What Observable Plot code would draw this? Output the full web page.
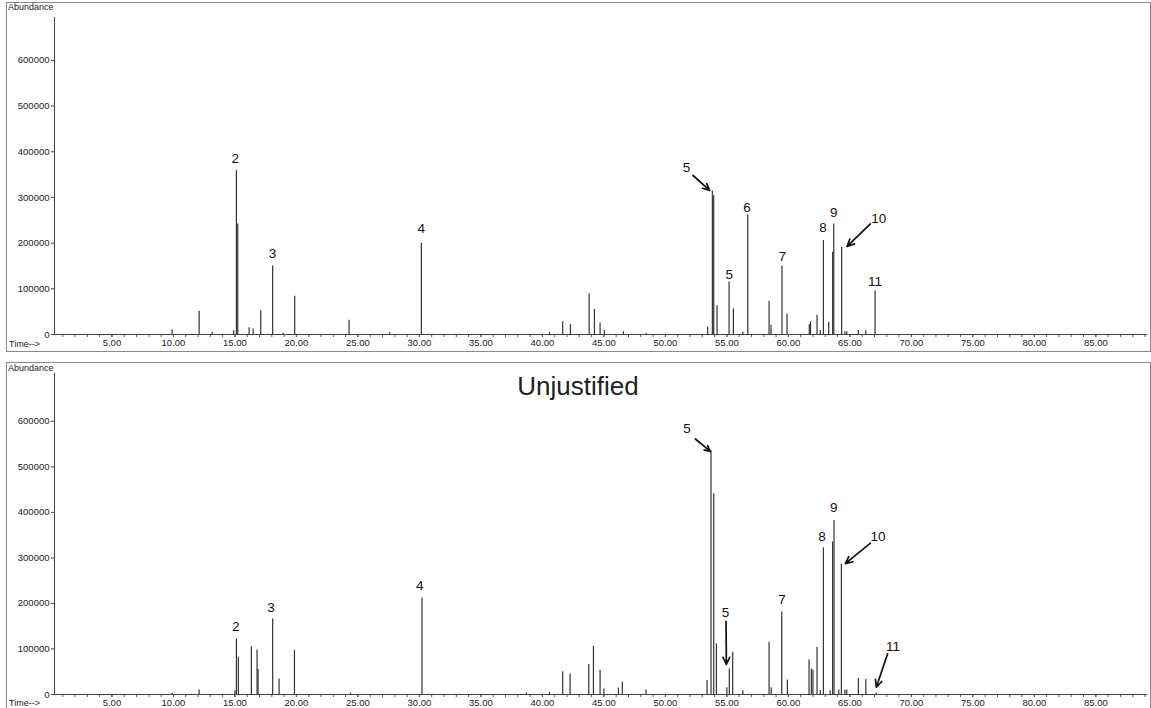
<!DOCTYPE html>
<html>
<head>
<meta charset="utf-8">
<script src="https://cdn.jsdelivr.net/npm/d3@7"></script>
<script src="https://cdn.jsdelivr.net/npm/@observablehq/plot@0.6"></script>
<style>
  html, body { margin: 0; padding: 0; background: #fff; overflow: hidden; }
  #root { position: relative; width: 1151px; height: 708px; font-family: "Liberation Sans", Arial, sans-serif; }
  .panel { position: absolute; left: 0; }
  .box { position: absolute; border: 1px solid #8a8a8a; pointer-events: none; }
  .lbl { position: absolute; font-size: 9px; color: #222; line-height: 1; white-space: nowrap; }
  .title { position: absolute; font-size: 26px; color: #222; line-height: 1; white-space: nowrap; transform: translateX(-50%); }
</style>
</head>
<body>
<div id="root"></div>
<script>
// ---- axis ticks ----
const xTicks = [5, 10, 15, 20, 25, 30, 35, 40, 45, 50, 55, 60, 65, 70, 75, 80, 85];
const xMinorTicks = [1,2,3,4,5,6,7,8,9,10,11,12,13,14,15,16,17,18,19,20,21,22,23,24,25,26,27,28,29,30,
  31,32,33,34,35,36,37,38,39,40,41,42,43,44,45,46,47,48,49,50,51,52,53,54,55,56,57,58,59,60,
  61,62,63,64,65,66,67,68,69,70,71,72,73,74,75,76,77,78,79,80,81,82,83,84,85,86,87,88,89];
const yTicks = [0, 100000, 200000, 300000, 400000, 500000, 600000];

// ---- top chromatogram: retention time (min) and abundance ----
const topTime  = [9.89, 12.09, 13.15, 14.9, 15.12, 15.23, 16.15, 16.48, 17.1, 18.07, 18.92, 19.86, 24.28, 27.59, 30.16,
  40.59, 41.65, 42.28, 43.8, 44.23, 44.69, 45.04, 46.59, 48.46, 53.44, 53.82, 53.93, 54.2, 55.18, 55.53, 56.3, 56.7,
  58.43, 58.59, 59.48, 59.89, 61.7, 61.8, 62.33, 62.6, 62.85, 63.28, 63.6, 63.69, 64.33, 64.6, 64.75, 65.69, 66.3, 67.05];
const topAbund = [10000, 51000, 5000, 8000, 359000, 242000, 15000, 12000, 52000, 150000, 3000, 84000, 31000, 4000, 200000,
  4000, 28000, 22000, 89000, 55000, 25000, 8000, 6000, 2000, 16000, 314000, 304000, 63000, 115000, 56000, 5000, 262000,
  72000, 20000, 150000, 45000, 22000, 28000, 42000, 8000, 206000, 26000, 180000, 242000, 191000, 6000, 6000, 9000, 8000, 95000];

// ---- bottom chromatogram ("Unjustified") ----
const botTime  = [9.89, 12.09, 15.0, 15.12, 15.28, 16.34, 16.8, 16.88, 18.07, 18.59, 19.84, 24.4, 30.21,
  38.7, 40.57, 41.65, 42.25, 43.77, 44.15, 44.69, 45.0, 46.18, 46.5, 48.43, 53.39, 53.71, 53.93, 54.15,
  55.0, 55.2, 55.47, 56.3, 58.43, 58.6, 59.46, 59.92, 61.68, 61.87, 62.0, 62.33, 62.6, 62.85, 63.4, 63.6, 63.71,
  64.1, 64.31, 64.6, 64.75, 65.69, 66.3, 67.13];
const botAbund = [2000, 10000, 8000, 122000, 82000, 105000, 98000, 55000, 166000, 34000, 97000, 3000, 212000,
  3000, 4000, 50000, 45000, 66000, 106000, 53000, 12000, 14000, 27000, 10000, 31000, 535000, 441000, 111000,
  15000, 56000, 93000, 8000, 115000, 15000, 181000, 32000, 76000, 56000, 53000, 103000, 8000, 322000, 8000, 335000, 382000,
  10000, 286000, 10000, 10000, 35000, 33000, 3000];

// ---- peak annotations (label text and its position in data units) ----
const topLabelText  = ["2", "3", "4", "5", "5", "6", "7", "8", "9", "10", "11"];
const topLabelTime  = [15.02, 18.05, 30.14, 51.71, 55.2, 56.64, 59.51, 62.82, 63.68, 67.34, 67.05];
const topLabelAbund = [384700, 176700, 231400, 366300, 131400, 278700, 170800, 233600, 267800, 253300, 116700];
const topArrowFromTime  = [52.25, 66.67];
const topArrowFromAbund = [348100, 242400];
const topArrowToTime    = [53.6, 64.77];
const topArrowToAbund   = [315300, 192700];

const botLabelText  = ["2", "3", "4", "5", "5", "7", "8", "9", "10", "11"];
const botLabelTime  = [15.07, 17.94, 30.02, 51.76, 54.88, 59.49, 62.74, 63.68, 67.29, 68.51];
const botLabelAbund = [147900, 190500, 239600, 583900, 179600, 208100, 347300, 410300, 347300, 105500];
const botArrowFromTime  = [52.44, 54.93, 66.67, 68.07];
const botArrowFromAbund = [561100, 160400, 332500, 89400];
const botArrowToTime    = [53.66, 54.96, 64.63, 67.15];
const botArrowToAbund   = [533800, 65900, 287300, 16000];

const X0 = 0.33, X1 = 89.2;

function zipPeaks(ts, hs) { return ts.map((t, i) => ({t, h: hs[i]})); }
function zipLabels(txt, ts, hs) { return txt.map((s, i) => ({label: s, t: ts[i], h: hs[i]})); }
function zipArrows(ft, fh, tt, th) { return ft.map((d, i) => ({x1: d, y1: fh[i], x2: tt[i], y2: th[i]})); }

function chromatogram({height, marginTop, marginBottom, yMax, peaks, labels, arrows}) {
  return Plot.plot({
    width: 1151,
    height,
    marginTop,
    marginBottom,
    marginLeft: 54,
    marginRight: 4,
    x: {domain: [X0, X1]},
    y: {domain: [0, yMax]},
    style: {fontFamily: "'Liberation Sans', Arial, sans-serif", fontSize: "9.5px", color: "#222", background: "transparent"},
    marks: [
      Plot.axisY({ticks: yTicks, tickFormat: d => String(d), tickSize: 3, tickPadding: 2, label: null, stroke: "#444"}),
      Plot.axisX({ticks: xMinorTicks, tickSize: 3, tickFormat: () => "", label: null, stroke: "#555"}),
      Plot.axisX({ticks: xTicks, tickSize: 3, tickPadding: 2, tickFormat: d => d.toFixed(2), label: null, stroke: "#555"}),
      Plot.ruleY([0], {stroke: "#444", strokeWidth: 1}),
      Plot.ruleX([X0], {stroke: "#444", strokeWidth: 1}),
      Plot.ruleX(peaks, {x: "t", y1: 0, y2: "h", stroke: "#333", strokeWidth: 1.2}),
      Plot.text(labels, {x: "t", y: "h", text: "label", fontSize: 13.5, fill: "#111"}),
      Plot.arrow(arrows, {x1: "x1", y1: "y1", x2: "x2", y2: "y2", stroke: "#111", strokeWidth: 1.7, headLength: 7, headAngle: 50})
    ]
  });
}

const root = document.getElementById("root");

const topChart = chromatogram({
  height: 352, marginTop: 17, marginBottom: 18, yMax: 694000,
  peaks: zipPeaks(topTime, topAbund),
  labels: zipLabels(topLabelText, topLabelTime, topLabelAbund),
  arrows: zipArrows(topArrowFromTime, topArrowFromAbund, topArrowToTime, topArrowToAbund)
});
const topWrap = document.createElement("div");
topWrap.className = "panel"; topWrap.style.top = "0px";
topWrap.appendChild(topChart);
root.appendChild(topWrap);

const botChart = chromatogram({
  height: 356, marginTop: 21, marginBottom: 14, yMax: 705000,
  peaks: zipPeaks(botTime, botAbund),
  labels: zipLabels(botLabelText, botLabelTime, botLabelAbund),
  arrows: zipArrows(botArrowFromTime, botArrowFromAbund, botArrowToTime, botArrowToAbund)
});
const botWrap = document.createElement("div");
botWrap.className = "panel"; botWrap.style.top = "352px";
botWrap.appendChild(botChart);
root.appendChild(botWrap);

function addDiv(cls, text, css) {
  const d = document.createElement("div");
  d.className = cls;
  if (text) d.textContent = text;
  Object.assign(d.style, css);
  root.appendChild(d);
}
// panel frames
addDiv("box", "", {left: "6px", top: "2px", width: "1143px", height: "348px"});
addDiv("box", "", {left: "6px", top: "362px", width: "1143px", height: "348px"});
// panel corner labels
addDiv("lbl", "Abundance", {left: "8px", top: "3px"});
addDiv("lbl", "Time-->", {left: "9px", top: "340px"});
addDiv("lbl", "Abundance", {left: "8px", top: "364px"});
addDiv("lbl", "Time-->", {left: "9px", top: "699px"});
// bottom panel title
addDiv("title", "Unjustified", {left: "578px", top: "373px"});
</script>
</body>
</html>
